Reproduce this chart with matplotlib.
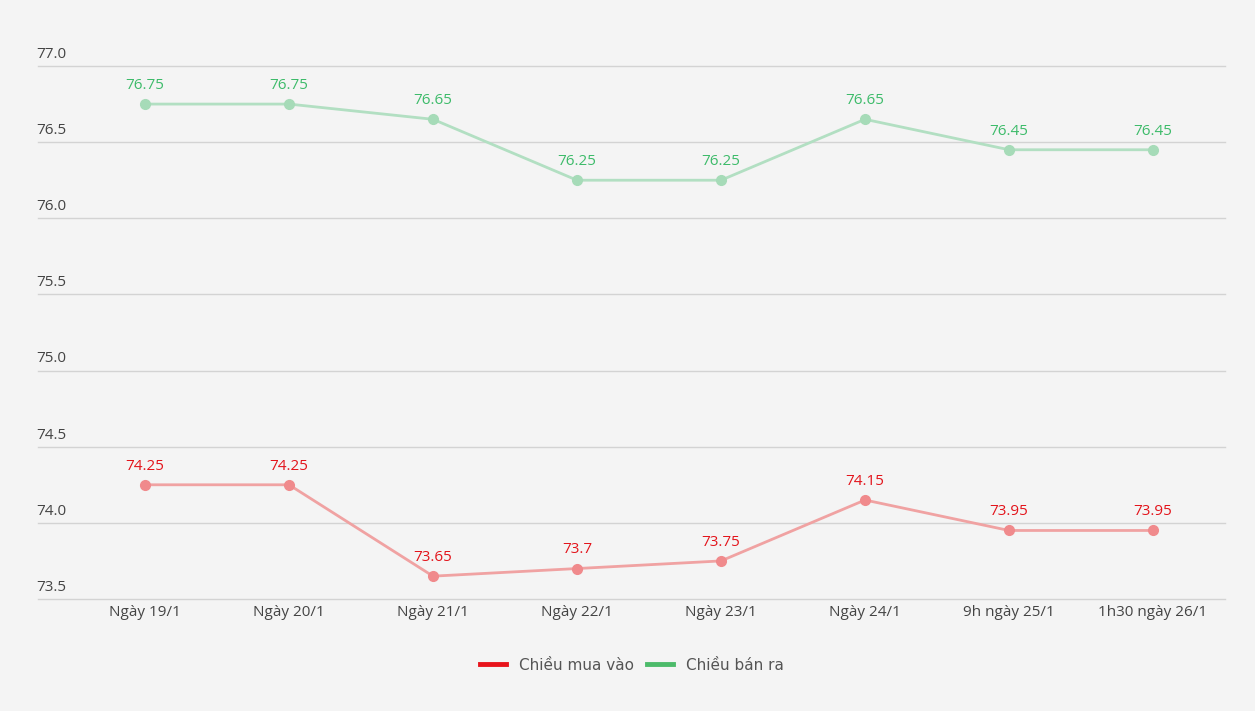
import matplotlib
matplotlib.use("Agg")
import matplotlib.pyplot as plt
from matplotlib.lines import Line2D
import matplotlib.transforms as mtransforms

categories = ["Ngày 19/1", "Ngày 20/1", "Ngày 21/1", "Ngày 22/1", "Ngày 23/1",
              "Ngày 24/1", "9h ngày 25/1", "1h30 ngày 26/1"]
buy = [74.25, 74.25, 73.65, 73.7, 73.75, 74.15, 73.95, 73.95]
sell = [76.75, 76.75, 76.65, 76.25, 76.25, 76.65, 76.45, 76.45]
yticks = [73.5, 74.0, 74.5, 75.0, 75.5, 76.0, 76.5, 77.0]
series_names = ["Chiều mua vào", "Chiều bán ra"]

W, H = 1255, 711
fig = plt.figure(figsize=(W / 100, H / 100), dpi=100)
bg = "#f4f4f4"
fig.patch.set_facecolor(bg)

left, right, top, bottom = 38, 1225, 66, 599
ax = fig.add_axes([left / W, (H - bottom) / H, (right - left) / W, (bottom - top) / H])
ax.set_facecolor(bg)
x = list(range(len(categories)))
ax.set_xlim(-(145 - 38) / 144, 7 + (1225 - 1153) / 144)
ax.set_ylim(73.5, 77.0)

for s in ax.spines.values():
    s.set_visible(False)
ax.set_yticks(yticks)
ax.set_yticklabels([])
ax.tick_params(axis="y", length=0)
ax.grid(axis="y", color="#d3d3d3", linewidth=1)
for gl in ax.get_ygridlines():
    gl.set_clip_on(False)
ax.set_axisbelow(True)

trans = mtransforms.blended_transform_factory(ax.transAxes, ax.transData)
for v in yticks:
    ax.annotate(f"{v:.1f}", (0, v), xycoords=trans, xytext=(-1, 3), textcoords="offset points",
                ha="left", va="bottom", fontsize=11, color="#444444", family="Open Sans")

ax.set_xticks(x)
ax.set_xticklabels(categories, fontsize=11, color="#444444", family="Open Sans")
ax.tick_params(axis="x", length=0, pad=4)

green_line = "#b2dfc2"
green_mk = "#a6dbb8"
green_txt = "#3dbb6a"
red_line = "#f0a2a2"
red_mk = "#f08a8c"
red_txt = "#e3141b"

ax.plot(x, sell, color=green_line, linewidth=2, marker="o", markersize=7,
        markerfacecolor=green_mk, markeredgecolor=green_mk, zorder=3)
ax.plot(x, buy, color=red_line, linewidth=2, marker="o", markersize=7,
        markerfacecolor=red_mk, markeredgecolor=red_mk, zorder=3)

for xi, v in zip(x, sell):
    ax.annotate(f"{v:g}", (xi, v), xytext=(0, 8), textcoords="offset points",
                ha="center", va="bottom", fontsize=11, color=green_txt, family="Open Sans")
for xi, v in zip(x, buy):
    ax.annotate(f"{v:g}", (xi, v), xytext=(0, 8), textcoords="offset points",
                ha="center", va="bottom", fontsize=11, color=red_txt, family="Open Sans")

handles = [Line2D([], [], color="#e8141b", linewidth=3.5),
           Line2D([], [], color="#4cbb6a", linewidth=3.5)]
leg = fig.legend(handles, series_names, loc="center", bbox_to_anchor=(632 / W, (H - 665) / H),
                 ncol=2, frameon=False, handlelength=1.7, handletextpad=0.8, columnspacing=0.9,
                 prop={"family": "DejaVu Sans", "size": 11})
for t in leg.get_texts():
    t.set_color("#555555")

fig.savefig("out.png", dpi=100, facecolor=bg)
